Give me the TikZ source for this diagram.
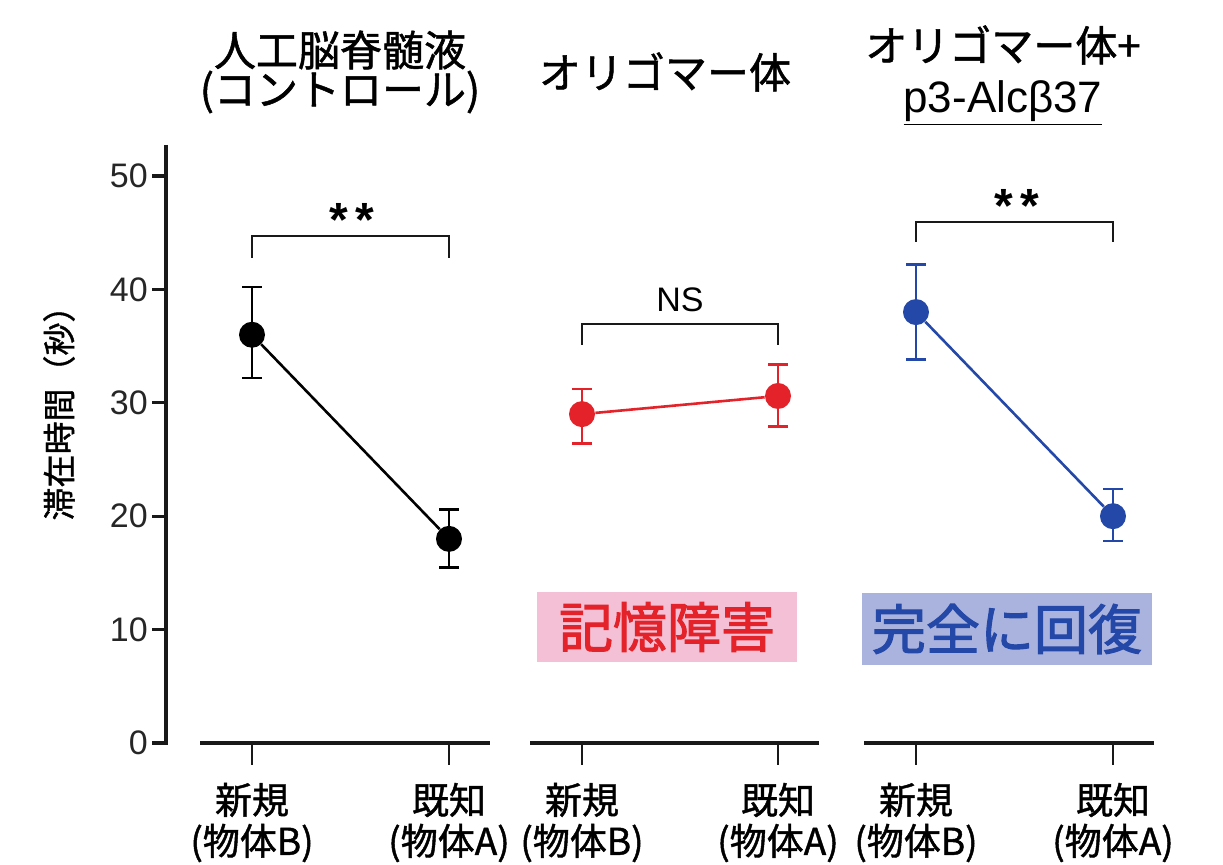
\documentclass[tikz,border=0pt]{standalone}
\usepackage{fontspec}
\setmainfont{Liberation Sans}
\newfontfamily\jpfont[FakeBold=1.2]{Noto Sans CJK JP}
\newfontfamily\jpboxfont[FakeBold=2]{Noto Sans CJK JP}
\usetikzlibrary{positioning}

\definecolor{oliRed}{RGB}{228,34,42}
\definecolor{recBlue}{RGB}{36,72,168}
\definecolor{pinkBox}{RGB}{244,192,214}
\definecolor{blueBox}{RGB}{170,178,222}

\begin{document}
\begin{tikzpicture}[x=0.5pt,y=-0.5pt,
    axis/.style={line width=1.6pt,black!90},
    dot/.style={circle,fill,inner sep=0pt,minimum size=13pt},
    err/.style={line width=1.3pt},
    brack/.style={line width=1.3pt,black!90},
    ttl/.style={font=\jpfont\fontsize{21}{25}\selectfont},
    cat/.style={font=\jpfont\fontsize{18.5}{22}\selectfont},
    num/.style={font=\fontsize{17}{20}\selectfont,black!85}]
  \useasboundingbox (0,0) rectangle (1223,865);

  % y axis
  \draw[axis] (166,145) -- (166,745);
  \foreach \v in {0,10,...,50}{
    \draw[axis] (152,{743-11.34*\v}) -- (166,{743-11.34*\v})
      node[num,left=5pt] (tick\v) {\v};
  }
  \node[font=\jpfont\fontsize{16.5}{20}\selectfont,rotate=90] (ylab) at (59,405) {滞在時間（秒）};

  % titles
  \node[ttl] (t1a) at (340,50) {人工脳脊髄液};
  \node[ttl] (t1b) at (340,92) {(コントロール)};
  \node[ttl] (t2) at (665,72) {オリゴマー体};
  \node[ttl] (t3a) at (1003,45) {オリゴマー体+};
  \node[font=\fontsize{22}{25}\selectfont] (t3b) at (1003,103) {\underline{p3-Alcβ37}};

  % panels
  \foreach \p/\xb/\xa/\mb/\lb/\hb/\ma/\la/\ha/\col in {
      1/252/449/36/32.2/40.2/18/15.5/20.6/black,
      2/582/778/29/26.4/31.2/30.6/27.9/33.4/oliRed,
      3/916/1113/38/33.8/42.2/20/17.8/22.4/recBlue}{
    \draw[axis] ({\xb-52},743) -- ({\xa+41},743);
    \draw[axis,line width=1.1pt] (\xb,743) -- (\xb,765);
    \draw[axis,line width=1.1pt] (\xa,743) -- (\xa,765);
    \node[cat] (nb\p) at (\xb,800) {新規};
    \node[cat] (ob\p) at (\xb,843) {(物体B)};
    \node[cat] (na\p) at (\xa,800) {既知};
    \node[cat] (oa\p) at (\xa,843) {(物体A)};
    \draw[err,\col] (\xb,{743-11.34*\lb}) -- (\xb,{743-11.34*\hb})
      (\xb-10,{743-11.34*\lb}) -- (\xb+10,{743-11.34*\lb})
      (\xb-10,{743-11.34*\hb}) -- (\xb+10,{743-11.34*\hb});
    \draw[err,\col] (\xa,{743-11.34*\la}) -- (\xa,{743-11.34*\ha})
      (\xa-10,{743-11.34*\la}) -- (\xa+10,{743-11.34*\la})
      (\xa-10,{743-11.34*\ha}) -- (\xa+10,{743-11.34*\ha});
    \node[dot,\col] (b\p) at (\xb,{743-11.34*\mb}) {};
    \node[dot,\col] (a\p) at (\xa,{743-11.34*\ma}) {};
    \draw[\col,line width=1.3pt] (b\p) -- (a\p);
  }

  % brackets
  \draw[brack] (252,258) -- (252,236) -- (449,236) -- (449,258);
  \node[font=\bfseries\fontsize{24}{26}\selectfont] (s1) at (352,220) {*\,*};
  \draw[brack] (582,345) -- (582,324) -- (778,324) -- (778,345);
  \node[num,black] (s2) at (680,300) {NS};
  \draw[brack] (916,242) -- (916,222) -- (1113,222) -- (1113,242);
  \node[font=\bfseries\fontsize{24}{26}\selectfont] (s3) at (1017,206) {*\,*};

  % boxes
  \node[fill=pinkBox,text=oliRed,font=\jpboxfont\fontsize{27}{30}\selectfont,
    minimum width=130pt,minimum height=35pt] (mem) at (667,627) {記憶障害};
  \node[fill=blueBox,text=recBlue,font=\jpboxfont\fontsize{27}{30}\selectfont,
    minimum width=145pt,minimum height=36pt] (rec) at (1007,629) {完全に回復};
\end{tikzpicture}
\end{document}
